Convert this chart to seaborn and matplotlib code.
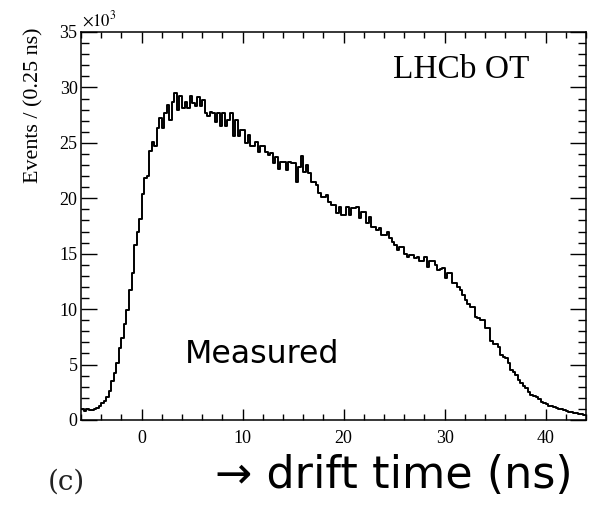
import numpy as np
import pandas as pd
import matplotlib
matplotlib.use("Agg")
import matplotlib.pyplot as plt
from matplotlib.ticker import MultipleLocator
import seaborn as sns

# ---- data: drift-time histogram, 0.25 ns bins from -6 to 44 ns, events in units of 10^3 ----
bin_width = 0.25
t_start = -6.0
events_k = [
    1.0, 0.8, 1.0, 0.9,      # -6..-5
    0.9, 1.0, 1.1, 1.3,      # -5..-4
    1.5, 1.7, 2.1, 2.6,      # -4..-3
    3.5, 4.2, 5.1, 6.5,      # -3..-2
    7.4, 8.7, 9.9, 11.7,     # -2..-1
    13.3, 15.8, 17.0, 18.1,  # -1..0
    20.4, 21.8, 22.0, 24.3,  # 0..1
    25.1, 24.7, 26.3, 27.2,  # 1..2
    26.3, 27.7, 28.4, 27.1,  # 2..3
    28.7, 29.5, 28.0, 29.2,  # 3..4
    28.1, 28.7, 28.1, 29.2,  # 4..5
    28.6, 28.3, 29.1, 28.3,  # 5..6
    28.9, 27.7, 27.4, 27.8,  # 6..7
    27.7, 26.9, 27.7, 26.5,  # 7..8
    27.7, 26.5, 27.1, 27.7,  # 8..9
    25.6, 27.1, 25.6, 26.2,  # 9..10
    26.2, 25.0, 25.7, 24.7,  # 10..11
    24.7, 25.1, 24.2, 24.7,  # 11..12
    24.7, 24.2, 23.9, 24.05, # 12..13
    23.2, 23.75, 22.6, 23.3, # 13..14
    23.3, 22.55, 23.3, 23.2, # 14..15
    23.2, 21.5, 22.85, 23.8, # 15..16
    22.4, 23.0, 22.25, 21.5, # 16..17
    21.5, 21.2, 20.45, 20.15,# 17..18
    20.15, 20.3, 19.7, 19.4, # 18..19
    19.4, 18.65, 19.25, 18.5,# 19..20
    18.5, 19.25, 18.5, 19.1, # 20..21
    19.1, 19.25, 18.2, 18.8, # 21..22
    18.8, 17.75, 18.35, 17.45,  # 22..23
    17.45, 17.15, 17.3, 16.7,   # 23..24
    16.7, 17.0, 16.4, 16.1,  # 24..25
    15.8, 15.3, 15.6, 15.6,  # 25..26
    15.0, 14.7, 14.9, 14.9,  # 26..27
    14.6, 14.7, 14.3, 14.3,  # 27..28
    14.7, 13.8, 14.3, 14.3,  # 28..29
    14.0, 13.5, 13.6, 13.7,  # 29..30
    12.8, 13.3, 13.3, 12.35, # 30..31
    12.35, 12.0, 11.7, 11.3, # 31..32
    10.8, 10.5, 10.2, 10.2,  # 32..33
    9.3, 9.2, 9.0, 9.0,      # 33..34
    8.3, 8.3, 7.1, 6.9,      # 34..35
    6.9, 6.6, 5.9, 5.7,      # 35..36
    5.6, 5.1, 4.5, 4.3,      # 36..37
    4.05, 3.6, 3.3, 3.1,     # 37..38
    2.85, 2.55, 2.25, 2.2,   # 38..39
    2.1, 1.85, 1.65, 1.5,    # 39..40
    1.45, 1.3, 1.25, 1.15,   # 40..41
    1.1, 1.0, 0.95, 0.9,     # 41..42
    0.85, 0.75, 0.7, 0.65,   # 42..43
    0.6, 0.55, 0.5, 0.45,    # 43..44
]
x_ticks = [0, 10, 20, 30, 40]
y_ticks = [0, 5, 10, 15, 20, 25, 30, 35]

edges = (t_start + bin_width * np.arange(len(events_k) + 1)).tolist()
centers = [0.5 * (a + b) for a, b in zip(edges[:-1], edges[1:])]
df = pd.DataFrame({"drift_time": centers, "events": events_k})

# ---- figure ----
sns.set_style("ticks")
plt.rcParams["font.family"] = ["Liberation Serif", "DejaVu Serif"]
plt.rcParams["mathtext.fontset"] = "stix"
plt.rcParams["text.color"] = "black"
plt.rcParams["axes.labelcolor"] = "black"

W, H = 590, 507
fig = plt.figure(figsize=(W / 100, H / 100), dpi=100)
L, R, T, B = 81, 586, 32, 420
ax = fig.add_axes([L / W, 1 - B / H, (R - L) / W, (B - T) / H])

sns.histplot(data=df, x="drift_time", weights="events", bins=edges,
             element="step", fill=False, color="black", linewidth=1.4, ax=ax)

ax.set_xlim(-6, 44)
ax.set_ylim(0, 35)
ax.set_xticks(x_ticks)
ax.set_yticks(y_ticks)
ax.xaxis.set_minor_locator(MultipleLocator(2))
ax.yaxis.set_minor_locator(MultipleLocator(1))
ax.tick_params(axis="both", which="both", direction="in", top=True, right=True,
               colors="black", width=1.0)
ax.tick_params(axis="x", which="major", length=8, pad=7, labelsize=13)
ax.tick_params(axis="x", which="minor", length=4.3)
ax.tick_params(axis="y", which="major", length=11.5, pad=2.5, labelsize=13)
ax.tick_params(axis="y", which="minor", length=6)
for s in ax.spines.values():
    s.set_linewidth(1.1)
    s.set_color("black")

ax.set_xlabel("")
ax.set_ylabel("Events / (0.25 ns)", fontsize=15.8, color="black")
ax.yaxis.set_label_coords(-0.075, 0.81)


def px(x, y):
    return x / W, 1 - y / H


fig.text(*px(82, 26), r"$\times10^{3}$", fontsize=12, ha="left", va="baseline",
         color="black")
fig.text(*px(393, 78), "LHCb OT", fontsize=24, ha="left", va="baseline",
         color="black")
fig.text(*px(185, 363), "Measured", fontsize=22.8, ha="left", va="baseline",
         family="DejaVu Sans", color="black")
fig.text(*px(48, 490), "(c)", fontsize=20, ha="left", va="baseline",
         family="DejaVu Serif", color="#222222")
fig.text(*px(215, 488), "\u2192 drift time (ns)", fontsize=32, ha="left",
         va="baseline", family="DejaVu Sans", color="black")

fig.savefig("out.png", dpi=100)
